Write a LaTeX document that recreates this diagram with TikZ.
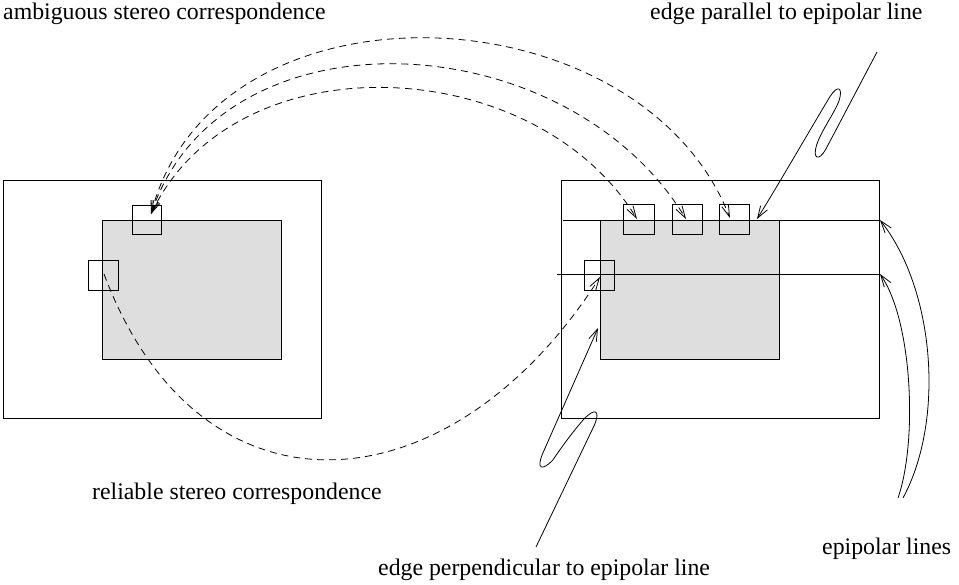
\documentclass[tikz,border=0pt]{standalone}
\usepackage{fontspec}
\setmainfont{Liberation Serif}
\usetikzlibrary{arrows.meta}
\definecolor{patchgray}{RGB}{222,222,222}
\begin{document}
\begin{tikzpicture}[x=1pt,y=-1pt,
  frame/.style={draw=black,line width=0.9pt},
  shaded/.style={draw=black,fill=patchgray,line width=0.9pt},
  win/.style={draw=black,line width=0.9pt},
  epi/.style={draw=black,line width=0.9pt},
  corr/.style={line width=0.8pt,dash pattern=on 7pt off 5pt,
               arrows={Straight Barb[length=12pt,width=7pt]-Straight Barb[length=12pt,width=7pt]}},
  corrone/.style={line width=0.8pt,dash pattern=on 7pt off 5pt,
               -{Straight Barb[length=12pt,width=7pt]}},
  pointer/.style={line width=0.8pt,-{Straight Barb[length=12pt,width=8pt]}},
  caption/.style={inner sep=0pt,anchor=base west,font=\fontsize{23.8}{28}\selectfont}]
\useasboundingbox (0,0) rectangle (959,584);

% left image
\draw[frame] (3,180) rectangle (321,418);
\draw[shaded] (102,220) rectangle (281,359);
\draw[win] (132,205) rectangle (161,234);
\draw[win] (88,260) rectangle (118,290);

% right image
\draw[frame] (561,180) rectangle (879,418);
\draw[shaded] (600,220) rectangle (779,359);
\draw[win] (623,204) rectangle (654,234);
\draw[win] (672,204) rectangle (702,234);
\draw[win] (719,204) rectangle (749,234);
\draw[win] (584,260) rectangle (614,290);

% epipolar lines
\coordinate (e1a) at (563,220);
\coordinate (e1b) at (880,220);
\coordinate (e2a) at (557,274);
\coordinate (e2b) at (880,274);
\draw[epi] (e1a) -- (e1b);
\draw[epi] (e2a) -- (e2b);

% end points of the connectors
\coordinate (Lamb) at (151,214);
\coordinate (Rone) at (637,219);
\coordinate (Rtwo) at (686,219);
\coordinate (Rthree) at (730,218);
\coordinate (Lrel) at (104,274);
\coordinate (Rrel) at (600,277);

% ambiguous correspondences
\draw[corr] (Lamb) .. controls (215,-30) and (640,-12) .. (Rthree);
\draw[corr] (Lamb) .. controls (222,5) and (566,22) .. (Rtwo);
\draw[corr] (Lamb) .. controls (235,38) and (535,52) .. (Rone);

% reliable correspondence
\draw[corrone] (Lrel) .. controls (200,530) and (450,512) .. (Rrel);

% edge parallel to epipolar line (zig-zag with rounded turns)
\coordinate (ptail) at (877,52);
\coordinate (ptip) at (757,219);
\draw[pointer] (ptail) -- (825.7,149.4)
  .. controls (818.8,161.6) and (812.4,158.8) .. (816.5,145.4)
  .. controls (821,131) and (834,114) .. (839.1,100.6)
  .. controls (843.2,87.2) and (837.6,84.6) .. (830.1,96.4)
  .. controls (811,128) and (780,182) .. (ptip);

% edge perpendicular to epipolar line
\coordinate (qtail) at (536,547);
\coordinate (qtip) at (598,328);
\draw[pointer] (qtail) -- (594.3,425.3)
  .. controls (600.5,410.6) and (595.5,407.3) .. (584.3,418.7)
  .. controls (574,430) and (561,448) .. (552.6,460.3)
  .. controls (541.4,471.7) and (536.4,468.4) .. (542.6,453.7)
  -- (qtip);

% epipolar line pointers
\coordinate (ltail1) at (903,498);
\coordinate (ltail2) at (898,498);
\draw[pointer] (ltail1) .. controls (945,420) and (935,290) .. (e1b);
\draw[pointer] (ltail2) .. controls (918,440) and (912,320) .. (e2b);

% captions
\node[caption] (tamb) at (3,19) {ambiguous stereo correspondence};
\node[caption] (tpar) at (650,19) {edge parallel to epipolar line};
\node[caption] (trel) at (92,499) {reliable stereo correspondence};
\node[caption] (tperp) at (378,575) {edge perpendicular to epipolar line};
\node[caption] (tepi) at (822,554) {epipolar lines};
\end{tikzpicture}
\end{document}
